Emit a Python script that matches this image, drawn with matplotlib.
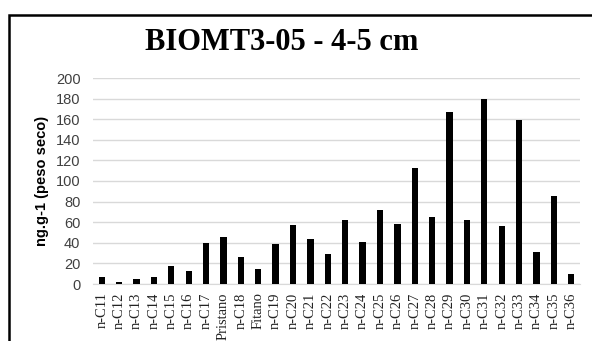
import numpy as np
import matplotlib
matplotlib.use("Agg")
import matplotlib.pyplot as plt
from matplotlib.patches import Rectangle

labels = ["n-C11", "n-C12", "n-C13", "n-C14", "n-C15", "n-C16", "n-C17", "Pristano",
          "n-C18", "Fitano", "n-C19", "n-C20", "n-C21", "n-C22", "n-C23", "n-C24",
          "n-C25", "n-C26", "n-C27", "n-C28", "n-C29", "n-C30", "n-C31", "n-C32",
          "n-C33", "n-C34", "n-C35", "n-C36"]
values = [7, 2, 5, 7, 17, 13, 40, 46, 26, 15, 39, 57, 44, 29, 62, 41,
          72, 58, 113, 65, 167, 62, 180, 56, 159, 31, 85, 10]
yticks = [0, 20, 40, 60, 80, 100, 120, 140, 160, 180, 200]

W, H = 592, 341
fig = plt.figure(figsize=(W / 100, H / 100), dpi=100)

# outer frame (cut off at right and bottom like the screenshot)
fig.patches.append(Rectangle((9 / W, -0.1), 1.2, 1 - 15 / H + 0.1, transform=fig.transFigure,
                             fill=False, edgecolor="black", linewidth=1.8))

ax = fig.add_axes([93 / W, 1 - 284 / H, (580 - 93) / W, (284 - 78) / H])
x = np.arange(len(labels))
ax.bar(x, values, width=0.36, color="black", zorder=3)

ax.set_xlim(-0.5, len(labels) - 0.5)
ax.set_ylim(0, 200)
ax.set_yticks(yticks)
ax.grid(axis="y", color="#d9d9d9", linewidth=1, zorder=0)
for s in ["top", "right", "left"]:
    ax.spines[s].set_visible(False)
ax.spines["bottom"].set_color("#d9d9d9")
ax.tick_params(length=0)
ax.tick_params(axis="y", labelsize=10.5, labelcolor="#404040", pad=9)
ax.set_yticklabels([str(v) for v in yticks], family="Liberation Sans")
ax.set_xticks(x)
ax.set_xticklabels(labels, rotation=90, family="Liberation Serif", fontsize=10.5, color="#222222")
ax.tick_params(axis="x", pad=6)

ax.set_ylabel("ng.g-1 (peso seco)", family="Liberation Sans", fontweight="bold", fontsize=10.5, labelpad=5)

fig.text(0.475, 1 - 42 / H, "BIOMT3-05 - 4-5 cm", family="Liberation Serif", fontweight="bold",
         fontsize=22, ha="center", va="center")

fig.savefig("out.png", dpi=100)
